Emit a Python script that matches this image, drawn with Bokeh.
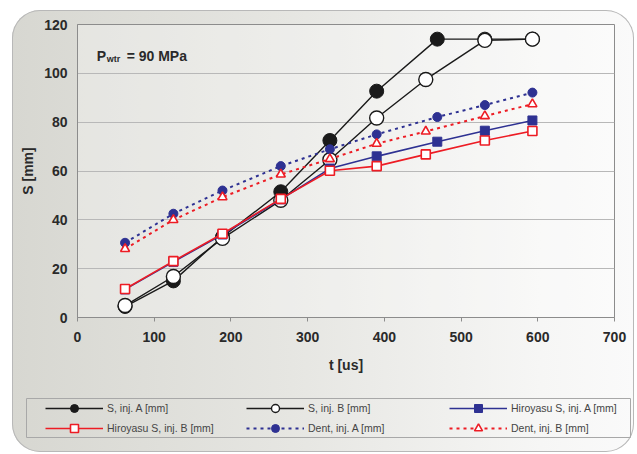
from bokeh.plotting import figure
from bokeh.models import Legend, LegendItem, Label, FixedTicker, Range1d
from bokeh.layouts import column
from bokeh.embed import file_html
from bokeh.resources import INLINE

# ---- data ----
t_inj_a = [62, 125, 189, 265, 329, 390, 469, 531, 593]
t_inj_b = [62, 125, 189, 265, 329, 390, 454, 531, 593]
s_inj_a = [4.5, 15.0, 33.0, 51.5, 72.5, 92.7, 114.0, 114.0, 114.0]
s_inj_b = [4.9, 16.8, 32.4, 48.0, 64.6, 81.7, 97.5, 113.5, 114.0]
hiroyasu_a = [11.5, 22.8, 34.0, 48.4, 61.0, 66.0, 72.0, 76.5, 80.7]
hiroyasu_b = [11.7, 23.1, 34.3, 48.6, 60.1, 62.0, 66.8, 72.5, 76.4]
dent_a = [30.6, 42.5, 52.0, 62.0, 68.9, 75.0, 82.1, 87.0, 92.1]
dent_b = [28.1, 40.0, 49.3, 58.6, 64.9, 71.2, 76.2, 82.5, 87.4]

x_ticks = [0, 100, 200, 300, 400, 500, 600, 700]
y_ticks = [0, 20, 40, 60, 80, 100, 120]

labels = ["S, inj. A [mm]", "S, inj. B [mm]", "Hiroyasu S, inj. A [mm]",
          "Hiroyasu S, inj. B [mm]", "Dent, inj. A [mm]", "Dent, inj. B [mm]"]

FONT = "Liberation Sans"
BLACK = "#1a1a1a"
BLUE = "#2e3192"
RED = "#ed1c24"
TEXT = "#2a2a2a"


def add_series(fig):
    rs = []
    rs.append([fig.line(t_inj_a, s_inj_a, line_color=BLACK, line_width=1.4),
               fig.scatter(t_inj_a, s_inj_a, marker="circle", size=14, fill_color=BLACK, line_color=BLACK)])
    rs.append([fig.line(t_inj_b, s_inj_b, line_color=BLACK, line_width=1.4),
               fig.scatter(t_inj_b, s_inj_b, marker="circle", size=14, fill_color="white",
                           line_color=BLACK, line_width=1.4)])
    rs.append([fig.line(t_inj_a, hiroyasu_a, line_color=BLUE, line_width=1.6),
               fig.scatter(t_inj_a, hiroyasu_a, marker="square", size=9, fill_color=BLUE, line_color=BLUE)])
    rs.append([fig.line(t_inj_b, hiroyasu_b, line_color=RED, line_width=1.6),
               fig.scatter(t_inj_b, hiroyasu_b, marker="square", size=9, fill_color="white",
                           line_color=RED, line_width=1.6)])
    rs.append([fig.line(t_inj_a, dent_a, line_color=BLUE, line_width=2, line_dash="3 4"),
               fig.scatter(t_inj_a, dent_a, marker="circle", size=9, fill_color=BLUE, line_color=BLUE)])
    rs.append([fig.line(t_inj_b, dent_b, line_color=RED, line_width=2, line_dash="3 4"),
               fig.scatter(t_inj_b, dent_b, marker="triangle", size=9, fill_color="white",
                           line_color=RED, line_width=1.6)])
    return rs


# ---- main chart ----
p = figure(width=622, height=375, x_range=(0, 700), y_range=(0, 120),
           output_backend="svg", toolbar_location=None,
           min_border_left=65, min_border_top=14, min_border_right=20,
           min_border_bottom=68)
p.frame_align = False
p.border_fill_alpha = 0
p.background_fill_color = "white"
p.background_fill_alpha = 0.3
p.outline_line_color = "#8c8c8c"

for ax in (p.xaxis, p.yaxis):
    ax.major_label_text_font = FONT
    ax.major_label_text_font_style = "bold"
    ax.major_label_text_font_size = "14px"
    ax.major_label_text_color = TEXT
    ax.axis_label_text_font = FONT
    ax.axis_label_text_font_style = "bold"
    ax.axis_label_text_font_size = "14px"
    ax.axis_label_text_color = TEXT
    ax.axis_line_color = "#8c8c8c"
    ax.major_tick_line_color = "#8c8c8c"
    ax.minor_tick_line_color = None
    ax.major_tick_in = 0

p.xaxis.ticker = FixedTicker(ticks=x_ticks)
p.yaxis.ticker = FixedTicker(ticks=y_ticks)
p.xaxis.major_tick_out = 4
p.yaxis.major_tick_out = 0
p.xaxis.major_label_standoff = 10
p.yaxis.major_label_standoff = 10
p.xaxis.axis_label = "t [us]"
p.yaxis.axis_label = "S [mm]"
p.xaxis.axis_label_standoff = 12
p.yaxis.axis_label_standoff = 5

p.xgrid.grid_line_color = None
p.ygrid.grid_line_color = "#b8b8b8"

add_series(p)

p.add_layout(Label(x=25, y=107, text="P", text_font=FONT, text_font_style="bold",
                   text_font_size="14px", text_color=TEXT, text_baseline="alphabetic"))
p.add_layout(Label(x=25, y=107, x_offset=10, y_offset=-3, text="wtr", text_font=FONT,
                   text_font_style="bold", text_font_size="9px", text_color=TEXT,
                   text_baseline="alphabetic"))
p.add_layout(Label(x=25, y=107, x_offset=30, text="= 90 MPa", text_font=FONT,
                   text_font_style="bold", text_font_size="14px", text_color=TEXT,
                   text_baseline="alphabetic"))

# ---- legend strip (its frame outline is the legend box) ----
lg = figure(width=622, height=67, x_range=Range1d(1000, 1001), y_range=Range1d(1000, 1001),
            output_backend="svg", toolbar_location=None,
            min_border_left=14, min_border_right=4, min_border_top=13, min_border_bottom=15)
lg.frame_align = False
lg.axis.visible = False
lg.grid.visible = False
lg.border_fill_alpha = 0
lg.background_fill_alpha = 0
lg.outline_line_color = "#a8a8a8"
rs = add_series(lg)

col_x = [19, 220, 423]
for c in range(3):
    items = [LegendItem(label=labels[c], renderers=rs[c]),
             LegendItem(label=labels[c + 3], renderers=rs[c + 3])]
    leg = Legend(items=items, location=(col_x[c], -0.5), margin=0, padding=0,
                 glyph_width=58, glyph_height=20, label_standoff=4, spacing=0,
                 label_text_font=FONT, label_text_font_size="10.5px",
                 label_text_color="#454545", border_line_alpha=0,
                 background_fill_alpha=0)
    lg.add_layout(leg, "center")

page = column(p, lg, spacing=0)
page.styles = {
    "margin-left": "12px",
    "margin-top": "10px",
    "background": "linear-gradient(90deg, #d7d7d1 0%, #e6e6e2 45%, #f6f6f5 85%, #fafafa 100%)",
    "border-radius": "28px",
    "box-shadow": "inset 0 0 0 1px #b8b8b8",
}

open("out.html", "w").write(file_html(page, INLINE))
